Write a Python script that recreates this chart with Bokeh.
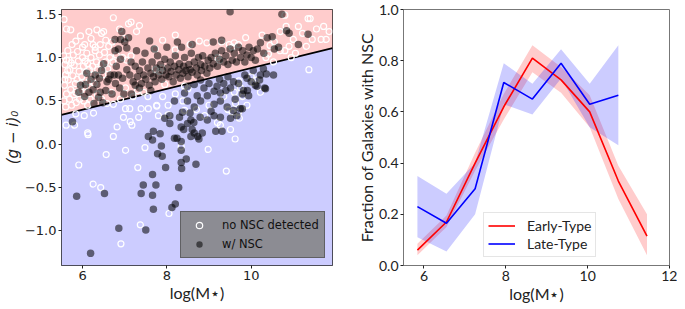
from bokeh.plotting import figure
from bokeh.layouts import row
from bokeh.models import Range1d, FixedTicker, CustomJSTickFormatter, Legend, LegendItem
from bokeh.embed import file_html
from bokeh.resources import INLINE

# ---------------- data: left panel ----------------
boundary_x = [5.5, 11.93]
boundary_y = [0.34, 1.11]
y_bottom = -1.4
y_top = 1.555

no_nsc_points = [
    (5.55,1.02),(5.58,0.92),(5.60,0.80),(5.57,0.68),(5.62,0.58),(5.56,0.50),(5.60,0.43),(5.65,1.08),(5.68,0.97),
    (5.70,0.86),(5.66,0.74),(5.72,0.63),(5.69,0.52),(5.74,0.45),(5.78,1.03),(5.80,0.91),(5.77,0.79),(5.83,0.70),
    (5.79,0.57),(5.85,0.48),(5.88,1.07),(5.90,0.96),(5.92,0.84),(5.87,0.75),(5.95,0.62),(5.93,0.52),(6.00,1.00),
    (6.02,0.90),(5.98,0.78),(6.05,0.66),(6.03,0.50),(6.10,1.05),(6.12,0.93),(6.08,0.83),(6.15,0.72),(6.18,0.52),
    (6.20,1.00),(6.24,0.90),(6.22,0.80),(6.28,0.70),(6.30,1.08),(6.33,0.95),(6.36,0.86),(6.40,1.03),(6.44,0.92),
    (6.48,0.80),(6.52,1.06),(6.55,0.95),(6.60,0.87),(6.65,1.00),(6.72,0.95),(6.80,1.03),(6.95,1.00),(7.05,0.97),
    (7.15,1.02),(6.35,0.58),(6.12,0.45),(6.45,0.52),(6.58,0.47),(6.68,0.60),(6.90,0.52),(7.02,0.65),(7.20,0.55),
    (7.30,0.62),(7.45,0.60),(7.55,0.55),(6.25,1.15),(5.75,1.15),(6.00,1.12),(5.62,0.97),(5.73,0.94),(5.84,0.60),
    (5.96,0.70),(6.06,0.96),(6.16,0.86),(5.58,0.75),(5.65,0.85),
    (5.56,1.44),(5.72,1.32),(5.62,1.33),(5.84,1.19),(6.15,1.30),(6.34,1.32),(6.45,1.28),(6.50,1.30),(6.73,1.46),
    (7.09,1.39),(7.15,1.41),(7.28,1.30),(6.42,1.15),(6.62,1.13),(6.20,1.22),(6.05,1.15),(5.95,1.25),(6.30,1.12),
    (6.55,1.20),(6.88,1.33),(7.00,1.22),(6.70,1.18),(7.35,1.37),(7.90,1.20),(8.20,1.26),(8.77,1.19),(8.20,1.09),
    (7.72,1.10),(9.48,1.15),(9.60,1.17),(9.30,1.18),(9.20,1.00),(9.25,0.97),(7.73,0.86),(7.83,0.84),(7.88,0.88),
    (8.55,1.15),(8.95,1.17),(9.55,1.12),(9.70,1.15),(9.87,1.23),(10.26,1.26),(10.45,1.14),(10.55,1.18),
    (10.69,1.08),(10.41,1.04),(10.35,1.00),(10.53,0.95),(10.80,1.49),(11.35,1.45),(11.40,1.45),(11.12,1.36),
    (11.55,1.33),(11.72,1.36),(10.83,1.36),(10.69,1.30),(11.22,1.28),(11.45,1.21),(11.66,1.21),(11.78,1.21),
    (11.31,1.13),(11.00,1.21),(10.90,1.13),(10.80,1.08),(11.05,1.05),(10.95,1.00),(11.85,1.30),(11.37,0.86),
    (10.22,0.60),(10.06,0.71),(10.00,0.78),(10.12,0.74),
    (7.95,0.69),(8.42,0.67),(8.50,0.64),(8.38,0.50),(8.03,0.45),(7.76,0.45),(9.71,0.73),(9.75,0.65),(9.63,0.47),
    (9.55,0.37),(9.45,0.40),(9.70,0.37),(9.72,0.30),(8.42,0.39),(8.03,0.34),(7.80,0.33),(8.90,0.33),(9.20,0.25),
    (9.80,0.55),(9.90,0.45),(7.90,0.55),(8.20,0.58),(8.70,0.40),(9.00,0.45),(9.35,0.55),(9.60,0.60),
    (5.61,0.22),(5.81,0.22),(6.12,0.13),(6.13,0.11),(5.91,-0.24),(6.25,-0.46),(6.43,-0.50),(6.56,-0.12),
    (7.02,-0.07),(7.31,-0.27),(7.48,-0.04),(6.82,0.20),(6.73,0.09),(7.17,0.22),(7.33,0.31),(7.76,0.44),
    (7.02,0.41),(7.12,0.41),(7.39,0.41),(7.56,0.41),(6.73,0.46),(6.04,0.33),(6.26,0.36),(5.84,0.35),
    (7.37,-0.93),(6.91,-1.15),(8.05,-0.80),(8.34,-0.03),(8.98,-0.06),(9.41,-0.31),(9.62,0.06),(9.51,0.17),
    (9.27,0.22),(6.97,0.31),(7.13,0.26),
]

nsc_points = [
    (5.76,0.26),(5.91,0.60),(5.95,0.68),(6.07,0.69),(6.15,0.60),(6.05,0.55),(6.34,0.69),(6.42,0.60),(6.38,0.54),
    (6.27,0.47),(6.48,0.48),(6.55,0.62),(6.70,0.58),(6.62,0.75),(6.50,0.93),(6.66,0.80),(6.75,0.80),(6.85,0.80),
    (6.95,0.76),(6.88,0.65),(6.98,0.58),(6.20,0.75),(6.30,0.80),(6.45,0.85),(6.58,0.72),(6.78,0.70),(6.10,0.82),
    (6.25,0.63),(6.40,0.76),(6.80,0.90),(6.90,0.98),(6.77,1.08),(6.85,1.10),(6.77,1.21),(6.93,1.30),(6.90,1.21),
    (7.05,1.11),(7.09,1.23),(7.00,1.18),
    (7.05,0.86),(7.12,0.80),(7.16,0.58),(7.20,0.72),(7.25,0.90),(7.28,1.08),(7.30,0.78),(7.35,0.85),(7.40,0.70),
    (7.42,0.95),(7.45,0.80),(7.50,0.75),(7.55,0.88),(7.59,1.19),(7.58,0.68),(7.62,0.82),(7.65,0.95),(7.68,0.78),
    (7.72,0.72),(7.75,0.88),(7.78,1.02),(7.80,0.80),(7.85,0.92),(7.88,0.75),(7.90,0.85),(7.95,0.98),(7.98,0.80),
    (7.15,0.95),(7.35,0.65),(7.48,1.05),(7.70,1.10),(7.25,0.68),(7.62,0.62),
    (8.02,0.88),(8.05,0.78),(8.08,0.95),(8.10,0.84),(8.15,0.72),(8.18,0.90),(8.20,1.02),(8.22,0.80),(8.28,0.86),
    (8.30,0.93),(8.32,0.76),(8.38,0.82),(8.40,0.90),(8.42,1.00),(8.45,0.85),(8.50,0.78),(8.52,0.92),(8.55,0.86),
    (8.58,1.05),(8.60,0.83),(8.65,0.95),(8.70,0.88),(8.72,0.80),(8.75,1.00),(8.80,0.92),(8.82,0.85),(8.85,1.02),
    (8.90,0.90),(8.95,0.82),(8.98,0.97),(8.35,1.12),(8.60,1.15),(8.25,1.18),(8.00,1.12),
    (9.02,0.88),(9.05,1.00),(9.10,0.93),(9.15,1.05),(9.20,0.90),(9.25,0.98),(9.30,1.08),(9.35,0.95),(9.40,1.02),
    (9.45,0.92),(9.50,1.10),(9.55,0.97),(9.60,1.05),(9.65,0.95),(9.70,1.12),(9.75,1.00),(9.80,1.08),(9.85,0.95),
    (9.90,1.03),(9.95,1.12),(10.00,1.00),(10.05,1.08),(10.10,0.97),(10.15,1.10),(10.22,1.17),(10.30,1.05),
    (10.38,1.23),(10.50,1.24),(10.55,1.10),(10.65,1.12),(10.73,1.50),(10.84,1.31),(10.90,1.28),(11.12,1.15),
    (11.35,1.27),(9.50,1.53),(9.10,1.18),(9.30,1.20),
    (6.19,-1.26),(5.86,-0.60),(6.86,-0.97),(7.50,-0.99),(6.52,-0.57),(7.44,-0.47),(7.39,-0.57),(7.66,-0.35),
    (7.66,-0.59),(7.74,-0.47),(7.68,-0.75),(8.12,-0.73),(8.20,-0.69),(8.28,-0.50),(7.97,-0.27),(8.34,-0.21),
    (8.35,-0.28),(8.69,-0.23),(7.89,-0.14),(7.78,-0.11),(7.87,-0.02),(7.56,0.09),(7.66,0.05),(7.68,0.15),
    (7.84,0.12),(8.18,0.07),(8.24,0.07),(8.34,0.03),(7.95,0.30),(8.07,0.24),(8.34,0.20),(8.40,0.17),(8.30,0.31),
    (8.49,0.24),(8.60,0.17),(8.65,0.13),(8.73,0.09),(8.84,0.13),(9.16,0.15),(9.31,0.15),(8.79,0.31),(8.46,-0.17),
    (8.37,0.37),(8.49,0.50),(8.65,0.43),(8.80,0.50),(8.96,0.56),(9.12,0.46),(9.27,0.50),(9.43,0.43),(9.58,0.39),
    (9.74,0.41),(9.19,0.67),(9.35,0.70),(9.51,0.65),(9.58,0.72),(9.70,0.70),(9.90,0.76),(10.05,0.85),(10.29,0.87),
    (10.36,0.81),(10.20,0.74),(10.32,0.65),(9.94,0.56),(8.80,0.74),(8.65,0.69),(8.88,0.65),(9.00,0.70),(9.12,0.61),
    (9.27,0.59),(8.42,0.59),(8.49,0.67),(8.18,0.50),(8.07,0.33),(8.57,0.28),(8.64,0.25),(8.96,0.28),(9.12,0.33),
    (9.27,0.31),(9.51,0.30),(9.66,0.33),(8.57,0.09),(8.76,0.06),(8.34,-0.07),(8.55,0.36),(8.72,0.56),(9.05,0.38),
    (9.40,0.62),(9.62,0.52),(9.82,0.62),(10.10,0.68),(10.22,0.80),(10.53,0.80),(10.14,0.67),(10.34,0.64),
    (9.91,0.62),(9.79,0.58),(9.79,0.41),(9.85,0.80),(10.00,0.72),(9.45,0.78),(9.25,0.75),
]

# ---------------- data: right panel ----------------
bin_mass = [5.84, 6.55, 7.25, 7.95, 8.65, 9.35, 10.05, 10.75, 11.45]
early_frac = [0.06, 0.17, 0.40, 0.62, 0.81, 0.725, 0.60, 0.33, 0.115]
early_lo = [0.04, 0.15, 0.37, 0.57, 0.755, 0.675, 0.54, 0.26, 0.04]
early_hi = [0.085, 0.195, 0.44, 0.67, 0.86, 0.775, 0.665, 0.39, 0.20]
late_mass = [5.84, 6.55, 7.25, 7.95, 8.65, 9.35, 10.05, 10.75]
late_frac = [0.23, 0.165, 0.30, 0.715, 0.65, 0.79, 0.63, 0.665]
late_lo = [0.11, 0.055, 0.20, 0.63, 0.59, 0.73, 0.54, 0.47]
late_hi = [0.35, 0.28, 0.40, 0.79, 0.71, 0.845, 0.71, 0.86]

minus_fmt = "return (Math.abs(tick) < 1e-9 ? '0.0' : tick.toFixed(1)).replace('-', '\u2212');"

def style_axes(p, font, size, outline):
    p.grid.visible = False
    p.outline_line_color = outline
    p.outline_line_width = 1
    for ax in (p.xaxis, p.yaxis):
        ax.axis_line_color = None
        ax.major_tick_line_color = "#222222"
        ax.major_tick_out = 3
        ax.major_tick_in = 0
        ax.minor_tick_line_color = None
        ax.major_label_text_font = font
        ax.major_label_text_font_size = size
        ax.major_label_text_color = "#222222"
        ax.major_label_standoff = 2
        ax.axis_label_text_font_style = "normal"
        ax.axis_label_text_color = "#222222"
        ax.axis_label_standoff = 0

H = 305

# ---------------- left figure ----------------
p1 = figure(width=340, height=H, output_backend="svg", toolbar_location=None,
            x_range=Range1d(5.5, 11.93), y_range=Range1d(y_bottom, y_top),
            min_border_left=60, min_border_right=8, min_border_top=9)
style_axes(p1, "DejaVu Sans", "13px", "#222222")
p1.varea(x=boundary_x, y1=boundary_y, y2=[y_top, y_top], fill_color="#ffcccc", fill_alpha=1)
p1.varea(x=boundary_x, y1=[y_bottom, y_bottom], y2=boundary_y, fill_color="#ccccff", fill_alpha=1)
p1.line(boundary_x, boundary_y, line_color="black", line_width=1.8)

nx = [a for a, b in no_nsc_points]
ny = [b for a, b in no_nsc_points]
fx = [a for a, b in nsc_points]
fy = [b for a, b in nsc_points]
r_open = p1.scatter(nx, ny, marker="circle", size=6, fill_alpha=0, line_color="white", line_width=1.2)
r_fill = p1.scatter(fx, fy, marker="circle", size=7.5, fill_color="black", fill_alpha=0.55, line_alpha=0)

p1.xaxis.ticker = FixedTicker(ticks=[6, 8, 10, 12])
p1.yaxis.ticker = FixedTicker(ticks=[-1.0, -0.5, 0.0, 0.5, 1.0, 1.5])
p1.yaxis.formatter = CustomJSTickFormatter(code=minus_fmt)
p1.xaxis.axis_label = "log(M\u22c6)"
p1.xaxis.axis_label_text_font = "Lato"
p1.xaxis.axis_label_text_font_size = "16px"
p1.yaxis.axis_label = "(g \u2212 i)\u2080"
p1.yaxis.axis_label_text_font = "DejaVu Sans"
p1.yaxis.axis_label_text_font_style = "italic"
p1.yaxis.axis_label_text_font_size = "15px"

leg1 = Legend(items=[LegendItem(label="no NSC detected", renderers=[r_open]),
                     LegendItem(label="w/ NSC", renderers=[r_fill])],
              location=(119, 7))
leg1.background_fill_color = "#808080"
leg1.background_fill_alpha = 0.85
leg1.border_line_color = "#333333"
leg1.border_line_width = 1
leg1.label_text_font = "DejaVu Sans"
leg1.label_text_font_size = "11.5px"
leg1.label_text_color = "#111111"
leg1.glyph_width = 26
leg1.glyph_height = 16
leg1.label_height = 16
leg1.label_standoff = 10
leg1.padding = 5
leg1.spacing = 3
leg1.margin = 0
p1.add_layout(leg1, "center")

# ---------------- right figure ----------------
p2 = figure(width=337, height=H, output_backend="svg", toolbar_location=None,
            x_range=Range1d(5.5, 12.0), y_range=Range1d(0.0, 1.0),
            min_border_left=63, min_border_right=8, min_border_top=9)
style_axes(p2, "Lato", "14px", "#777777")
p2.varea(x=bin_mass, y1=early_lo, y2=early_hi, fill_color="red", fill_alpha=0.2)
p2.varea(x=late_mass, y1=late_lo, y2=late_hi, fill_color="blue", fill_alpha=0.2)
r_e = p2.line(bin_mass, early_frac, line_color="red", line_width=1.6)
r_l = p2.line(late_mass, late_frac, line_color="blue", line_width=1.6)
p2.xaxis.ticker = FixedTicker(ticks=[6, 8, 10, 12])
p2.yaxis.ticker = FixedTicker(ticks=[0.0, 0.2, 0.4, 0.6, 0.8, 1.0])
p2.yaxis.formatter = CustomJSTickFormatter(code=minus_fmt)
p2.xaxis.axis_label = "log(M\u22c6)"
p2.xaxis.axis_label_text_font = "Lato"
p2.xaxis.axis_label_text_font_size = "16px"
p2.yaxis.axis_label = "Fraction of Galaxies with NSC"
p2.yaxis.axis_label_text_font = "Lato"
p2.yaxis.axis_label_text_font_size = "16px"

leg2 = Legend(items=[LegendItem(label="Early-Type", renderers=[r_e]),
                     LegendItem(label="Late-Type", renderers=[r_l])],
              location=(80, 8))
leg2.background_fill_color = "white"
leg2.background_fill_alpha = 0.9
leg2.border_line_color = "#cccccc"
leg2.label_text_font = "Lato"
leg2.label_text_font_size = "14px"
leg2.label_text_color = "#222222"
leg2.glyph_width = 27
leg2.glyph_height = 17
leg2.label_height = 17
leg2.label_standoff = 12
leg2.padding = 4
leg2.spacing = 1
leg2.margin = 0
p2.add_layout(leg2, "center")

layout = row(p1, p2)
open("out.html", "w").write(file_html(layout, INLINE))
